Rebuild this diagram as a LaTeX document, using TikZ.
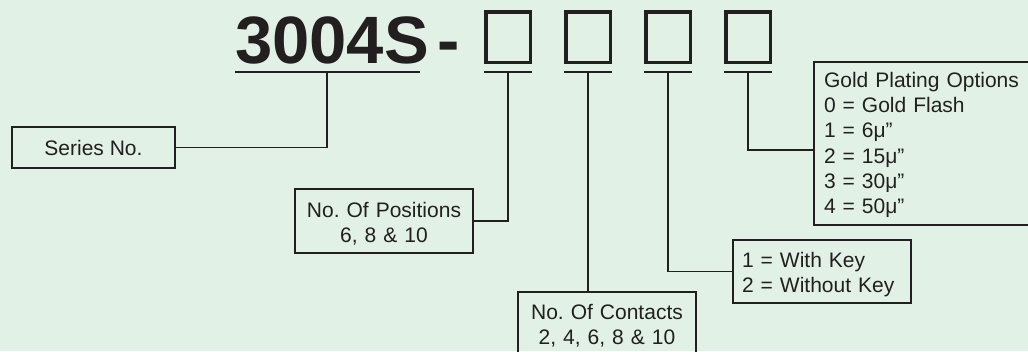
\documentclass[tikz,border=0pt]{standalone}
\usepackage{fontspec}
\setmainfont{Liberation Sans}
\usetikzlibrary{calc}
\definecolor{bg}{RGB}{225,241,230}
\definecolor{ink}{RGB}{35,31,32}
\frenchspacing
\begin{document}
\begin{tikzpicture}[x=1pt,y=-1pt,
  txt/.style={font=\fontsize{21}{25.2}\selectfont\frenchspacing, text=ink},
  infobox/.style={draw=ink, line width=2pt, inner sep=0pt, txt, text height=15pt},
  conn/.style={draw=ink, line width=1.9pt},
  uline/.style={draw=ink, line width=1.9pt},
  slot/.style={draw=ink, line width=3.5pt, minimum width=44.5pt, minimum height=50.5pt, inner sep=0pt},
  bigtxt/.style={anchor=base west, inner sep=0pt, font=\fontsize{67}{67}\selectfont\bfseries, text=ink}]
\fill[bg] (0,0) rectangle (1028,351);
\useasboundingbox (0,0) rectangle (1028,351);

% title
\node[bigtxt] (title) at (235,63) {3004S};
\node[bigtxt] (dash) at (437,63) {-};

% slots
\node[slot] (s1) at (508,37) {};
\node[slot] (s2) at (588,37) {};
\node[slot] (s3) at (668,37) {};
\node[slot] (s4) at (748,37) {};

% underlines
\draw[uline] (235,72) -- (420,72);
\foreach \i in {1,2,3,4} {\draw[uline] (s\i.west |- 0,72) -- (s\i.east |- 0,72);}

\coordinate (c0) at (327,72);
\coordinate (c1) at (508,72);
\coordinate (c2) at (588,72);
\coordinate (c3) at (668,72);
\coordinate (c4) at (748,72);

% boxes
\node[infobox, text depth=0pt, minimum width=163pt, minimum height=41pt] (series) at (93.5,147.5) {Series No.};
\node[infobox, text depth=23pt, align=center, text width=176pt, minimum width=178pt, minimum height=64pt] (pos) at (384,221) {No. Of Positions\\6, 8 \& 10};
\node[infobox, text depth=26pt, align=center, text width=176pt, minimum width=178pt, minimum height=65pt] (cont) at (607,324.5) {No. Of Contacts\\2, 4, 6, 8 \& 10};
\node[infobox, text depth=24pt, align=left, text width=160pt, minimum width=178pt, minimum height=63pt] (key) at (822,271.5) {1 = With Key\\2 = Without Key};
\node[infobox, text depth=127pt, align=left, text width=210pt, minimum width=230pt, minimum height=163pt] (gold) at (929,143.5) {Gold Plating Options\\0 = Gold Flash\\1 = 6μ”\\2 = 15μ”\\3 = 30μ”\\4 = 50μ”};

% connectors
\draw[conn] (c0) |- (series.east);
\draw[conn] (c1) |- (pos.east);
\draw[conn] (c2) -- (c2 |- cont.north);
\draw[conn] (c3) |- (key.west);
\draw[conn] (c4) |- ([yshift=-6.5pt]gold.west);
\end{tikzpicture}
\end{document}
